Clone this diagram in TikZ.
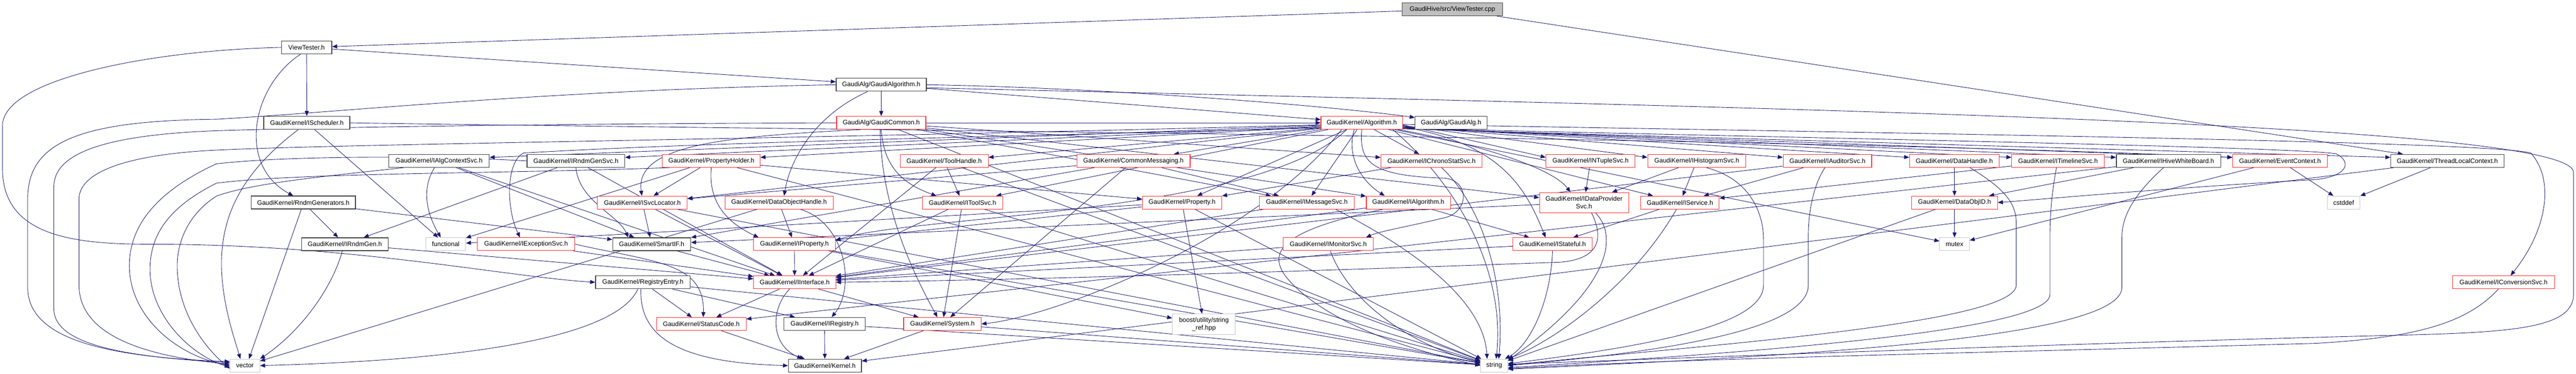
\documentclass[tikz,border=0pt]{standalone}
\usepackage{fontspec}
\newfontfamily\dfont{Liberation Sans}
\usetikzlibrary{arrows.meta}
\definecolor{edgec}{HTML}{191970}
\definecolor{redb}{HTML}{FF3030}
\definecolor{blkb}{HTML}{404040}
\definecolor{grayb}{HTML}{C8C8C8}
\definecolor{cppfill}{HTML}{BFBFBF}
\pgfdeclarelayer{bg}
\pgfsetlayers{bg,main}
\tikzset{
  nd/.style={draw, fill=white, inner sep=0pt, minimum height=25.6pt, font=\dfont\fontsize{12.8}{15}\selectfont, line width=1.1pt, text=black},
  rb/.style={nd, draw=redb},
  bb/.style={nd, draw=blkb, line width=1.4pt},
  gb/.style={nd, draw=grayb},
  cppb/.style={nd, draw=blkb, line width=1.4pt, fill=cppfill},
  e/.style={draw=edgec, line width=0.9pt, -{Triangle[length=10pt,width=8pt]}},
}
\begin{document}
\begin{tikzpicture}[x=1pt,y=-1.425pt]
\useasboundingbox (0,0) rectangle (5117,520);
% ---------- nodes ----------
\node[cppb, minimum width=200pt] (cpp) at (2885,13) {GaudiHive/src/ViewTester.cpp};
\node[bb, minimum width=100pt] (vth) at (609,66) {ViewTester.h};
\node[bb, minimum width=171pt] (isch) at (609.5,171) {GaudiKernel/IScheduler.h};
\node[bb, minimum width=207pt] (rgen) at (602.5,282) {GaudiKernel/RndmGenerators.h};
\node[bb, minimum width=172pt] (irg) at (685,340) {GaudiKernel/IRndmGen.h};
\node[gb, minimum width=59pt] (vec) at (486.5,509) {vector};
\node[bb, minimum width=200pt] (iacs) at (872,224) {GaudiKernel/IAlgContextSvc.h};
\node[bb, minimum width=194pt] (irgs) at (1144,224) {GaudiKernel/IRndmGenSvc.h};
\node[gb, minimum width=79pt] (func) at (885.5,340) {functional};
\node[rb, minimum width=194pt] (iexc) at (1045,340) {GaudiKernel/IExceptionSvc.h};
\node[bb, minimum width=155pt] (sif) at (1294.5,340) {GaudiKernel/SmartIF.h};
\node[rb, minimum width=178pt] (isvl) at (1276,282) {GaudiKernel/ISvcLocator.h};
\node[bb, minimum width=188pt] (regE) at (1277,393) {GaudiKernel/RegistryEntry.h};
\node[bb, minimum width=179pt] (galgo) at (1750.5,118) {GaudiAlg/GaudiAlgorithm.h};
\node[rb, minimum width=177pt] (gcom) at (1750.5,171) {GaudiAlg/GaudiCommon.h};
\node[rb, minimum width=194pt] (phold) at (1413,224) {GaudiKernel/PropertyHolder.h};
\node[rb, minimum width=215pt] (doh) at (1547.5,282) {GaudiKernel/DataObjectHandle.h};
\node[rb, minimum width=162pt] (iprop) at (1578,340) {GaudiKernel/IProperty.h};
\node[rb, minimum width=163pt] (iint) at (1578.5,393) {GaudiKernel/IInterface.h};
\node[rb, minimum width=178pt] (sc) at (1393,451) {GaudiKernel/StatusCode.h};
\node[bb, minimum width=162pt] (ireg) at (1638,451) {GaudiKernel/IRegistry.h};
\node[bb, minimum width=145pt] (kern) at (1638.5,509) {GaudiKernel/Kernel.h};
\node[rb, minimum width=175pt] (th) at (1875.5,224) {GaudiKernel/ToolHandle.h};
\node[rb, minimum width=160pt] (its) at (1912,282) {GaudiKernel/IToolSvc.h};
\node[rb, minimum width=154pt] (sys) at (1872,451) {GaudiKernel/System.h};
\node[rb, minimum width=225pt] (cm) at (2251.5,224) {GaudiKernel/CommonMessaging.h};
\node[rb, minimum width=158pt] (prop) at (2348,282) {GaudiKernel/Property.h};
\node[gb, minimum width=125pt, minimum height=41pt, align=center] (boost) at (2391.5,451.5) {boost/utility/string\\\_ref.hpp};
\node[rb, minimum width=188pt] (ims) at (2596,282) {GaudiKernel/IMessageSvc.h};
\node[rb, minimum width=162pt] (alg) at (2705,171) {GaudiKernel/Algorithm.h};
\node[bb, minimum width=143pt] (galg) at (2882.5,171) {GaudiAlg/GaudiAlg.h};
\node[rb, minimum width=201pt] (ichr) at (2843.5,224) {GaudiKernel/IChronoStatSvc.h};
\node[rb, minimum width=167pt] (ialg) at (2797.5,282) {GaudiKernel/IAlgorithm.h};
\node[rb, minimum width=179pt] (imon) at (2638.5,340) {GaudiKernel/IMonitorSvc.h};
\node[gb, minimum width=54pt] (str) at (2968,509) {string};
\node[rb, minimum width=177pt] (intu) at (3159.5,224) {GaudiKernel/INTupleSvc.h};
\node[rb, minimum width=195pt] (ihist) at (3370.5,224) {GaudiKernel/IHistogramSvc.h};
\node[rb, minimum width=177pt, minimum height=40pt, align=center] (idps) at (3146.5,282) {GaudiKernel/IDataProvider\\Svc.h};
\node[rb, minimum width=156pt] (isrv) at (3337,282) {GaudiKernel/IService.h};
\node[rb, minimum width=158pt] (istf) at (3084,340) {GaudiKernel/IStateful.h};
\node[rb, minimum width=176pt] (iaud) at (3630,224) {GaudiKernel/IAuditorSvc.h};
\node[rb, minimum width=178pt] (dh) at (3882,224) {GaudiKernel/DataHandle.h};
\node[rb, minimum width=184pt] (itl) at (4088,224) {GaudiKernel/ITimelineSvc.h};
\node[rb, minimum width=171pt] (doid) at (3882.5,282) {GaudiKernel/DataObjID.h};
\node[gb, minimum width=59pt] (mutex) at (3882.5,340) {mutex};
\node[bb, minimum width=207pt] (ihwb) at (4307.5,224) {GaudiKernel/IHiveWhiteBoard.h};
\node[rb, minimum width=188pt] (ec) at (4529,224) {GaudiKernel/EventContext.h};
\node[gb, minimum width=65pt] (cstd) at (4655.5,282) {cstddef};
\node[bb, minimum width=225pt] (tlc) at (4861.5,224) {GaudiKernel/ThreadLocalContext.h};
\node[rb, minimum width=202pt] (icnv) at (4973,393) {GaudiKernel/IConversionSvc.h};
% ---------- edges ----------
\begin{pgfonlayer}{bg}
\fill[white] (0,0) rectangle (5117,520);
% top level
\draw[e] (cpp) -- (vth);
\draw[e] (cpp) -- (tlc);
\draw[e] (vth) -- (galgo);
\draw[e] (vth) -- (isch);
\draw[e] ([xshift=-12pt]vth.south) .. controls (500,120) and (470,230) .. ([xshift=-20pt]rgen.north);
\draw[e] (vth.west) .. controls (300,70) and (5,110) .. (5,175) -- (5,235) .. controls (5,330) and (150,340) .. (300,340) .. controls (700,340) and (1000,385) .. (regE.west);
% GaudiAlgorithm.h
\draw[e] (galgo) -- (gcom);
\draw[e] (galgo.west) .. controls (1100,125) and (700,155) .. (430,166) .. controls (150,168) and (55,200) .. (55,277) -- (55,400) .. controls (55,470) and (200,497) .. ([yshift=8pt]vec.west);
\draw[e] (galgo) -- (alg);
\draw[e] (galgo.east) .. controls (2200,122) and (2650,148) .. ([yshift=-3pt]galg.north west);
\draw[e] ([xshift=-27pt]galgo.south) .. controls (1620,160) and (1570,220) .. ([xshift=10pt]doh.north);
\draw[e] ([yshift=-6pt]galgo.east) .. controls (3500,150) and (5112,170) .. (5112,240) -- (5112,410) .. controls (5112,455) and (5000,462) .. (4800,466) .. controls (4000,480) and (3300,500) .. ([yshift=3pt]str.east);
% GaudiCommon.h
\draw[e] (gcom) -- (alg);
\draw[e] (gcom.south) .. controls (1755,230) and (1790,255) .. ([xshift=-52pt]its.north);
\draw[e] ([xshift=-2pt]gcom.south) .. controls (1750,300) and (1830,400) .. ([xshift=-10pt]sys.north);
\draw[e] ([xshift=-40pt]gcom.south) .. controls (1450,190) and (1260,200) .. ([xshift=-1pt]isvl.north);
\draw[e] (gcom.west) .. controls (1200,172) and (700,176) .. (430,182) .. controls (200,188) and (107,215) .. (107,260) -- (107,430) .. controls (107,480) and (250,497) .. ([yshift=6pt]vec.west);
\draw[e] (gcom) -- (ims);
\draw[e] (gcom) -- (idps);
\draw[e] (gcom) -- (ichr);
\draw[e] (gcom) -- (ialg);
\draw[e] (gcom) -- (str);
% Algorithm.h
\draw[e] ([yshift=-5pt]alg.west) -- ([yshift=7pt]iacs.east);
\draw[e] ([yshift=-7pt]alg.west) -- ([yshift=7pt]irgs.east);
\draw[e] ([yshift=-8pt]alg.west) -- ([yshift=7pt]phold.east);
\draw[e] ([yshift=-10pt]alg.west) -- ([yshift=7pt]th.east);
\draw[e] (alg) -- (cm);
\draw[e] (alg) -- (its);
\draw[e] (alg) -- (prop);
\draw[e] (alg) -- (ims);
\draw[e] ([xshift=-15pt]alg.south) .. controls (2675,215) and (2700,250) .. ([xshift=-47pt]ialg.north);
\draw[e] (alg) -- (ichr);
\foreach \t/\s in {intu/-4, ihist/-5.5, iaud/-7, dh/-8, itl/-9, ihwb/-10, ec/-11, tlc/-12}
  \draw[e] ([yshift=\s pt]alg.east) -- ([yshift=7pt]\t.west);
\draw[e] ([yshift=-3pt]alg.east) .. controls (4000,188) and (4950,198) .. (5027,213) .. controls (5075,250) and (5060,320) .. ([xshift=14pt]icnv.north);
\draw[e] ([yshift=-8pt]alg.east) .. controls (2980,200) and (3030,260) .. ([xshift=-14pt]istf.north);
\draw[e] (alg) -- (isrv);
\draw[e] ([xshift=-10pt]alg.south east) .. controls (2900,195) and (3080,230) .. ([xshift=-27pt]idps.north);
\draw[e] ([yshift=-10pt]alg.west) .. controls (2000,190) and (1400,198) .. (1040,213) .. controls (1005,225) and (1005,290) .. ([xshift=-12pt]iexc.north);
\draw[e] (alg.south) .. controls (2700,225) and (2720,245) .. (2870,248) .. controls (2920,252) and (2918,295) .. (2870,303) .. controls (2800,315) and (2740,322) .. ([xshift=75pt]imon.north);
\draw[e] ([xshift=-30pt]alg.south) .. controls (2500,300) and (1800,300) .. ([yshift=7pt]iprop.east);
\draw[e] ([yshift=-11pt]alg.west) -- ([yshift=8pt]isvl.east);
\draw[e] ([xshift=-40pt]alg.south) .. controls (2500,330) and (2100,440) .. (sys.east);
\draw[e] ([xshift=-20pt]alg.south east) .. controls (2900,260) and (2990,380) .. ([xshift=4pt]str.north);
\draw[e] ([yshift=-4pt]alg.west) .. controls (1500,195) and (700,200) .. (430,209) .. controls (250,215) and (157,240) .. (157,277) -- (157,397) .. controls (157,470) and (300,497) .. ([yshift=3pt]vec.west);
\draw[e] ([yshift=-11pt]alg.east) .. controls (3800,195) and (4550,205) .. (4640,214) .. controls (4672,225) and (4665,245) .. (4600,250) .. controls (4300,262) and (4100,275) .. (doid.east);
\draw[e] (alg) -- (mutex);
% IScheduler.h
\draw[e] ([xshift=-17pt]isch.south) .. controls (480,240) and (440,300) .. (440,367) .. controls (440,420) and (465,470) .. ([xshift=-9pt]vec.north);
\draw[e] (isch) -- (func);
\draw[e] (isch.east) .. controls (1500,180) and (3500,190) .. ([yshift=7pt]ec.west);
% RndmGenerators.h, IRndmGen.h
\draw[e] (rgen) -- (irg);
\draw[e] ([xshift=-4pt]rgen.south) -- ([xshift=8pt]vec.north);
\draw[e] (rgen) -- (sif);
\draw[e] ([xshift=-5pt]irg.south) .. controls (660,400) and (600,460) .. (vec.north east);
\draw[e] (irg) -- (iint);
% IAlgContextSvc.h
\draw[e] (iacs) -- (sif);
\draw[e] (iacs) -- (iint);
\draw[e] ([xshift=-9pt]iacs.south) .. controls (835,265) and (850,300) .. ([xshift=-10pt]func.north);
\draw[e] ([xshift=30pt]iacs.south west) .. controls (650,245) and (500,255) .. (430,273) .. controls (370,300) and (352,340) .. (352,370) .. controls (352,430) and (400,480) .. ([yshift=-6pt]vec.west);
% IRndmGenSvc.h
\draw[e] (irgs) -- (irg);
\draw[e] (irgs.south) .. controls (1150,280) and (1230,300) .. ([xshift=-47pt]sif.north);
\draw[e] (irgs) -- (iint);
\draw[e] (irgs.west) .. controls (900,218) and (600,215) .. (430,228) .. controls (300,270) and (257,320) .. (257,370) .. controls (257,440) and (350,495) .. (vec.west);
% IExceptionSvc.h, SmartIF.h, ISvcLocator.h
\draw[e] (iexc) -- (iint);
\draw[e] (iexc.east) .. controls (1300,365) and (1400,365) .. ([xshift=4pt]sc.north);
\draw[e] (sif) -- (iint);
\draw[e] (isvl) -- (sif);
\draw[e] (isvl) -- (iint);
\draw[e] (isvl) -- (str);
% RegistryEntry.h
\draw[e] (regE) -- (ireg);
\draw[e] ([xshift=-4pt]regE.south) .. controls (1270,470) and (1350,505) .. (kern.west);
\draw[e] (regE) -- (sc);
\draw[e] ([xshift=-10pt]regE.south) .. controls (1230,460) and (1000,500) .. (vec.east);
\draw[e] (regE) -- (str);
% PropertyHolder.h
\draw[e] (phold) -- (isvl);
\draw[e] (phold.south) .. controls (1405,290) and (1460,315) .. ([xshift=-71pt]iprop.north);
\draw[e] (phold) -- (prop);
\draw[e] (phold) -- (func);
\draw[e] (phold) -- (str);
\draw[e] ([xshift=15pt]phold.south west) .. controls (1000,242) and (600,240) .. (430,255) .. controls (330,290) and (298,330) .. (298,375) .. controls (298,440) and (380,495) .. ([yshift=-3pt]vec.west);
% DataObjectHandle.h
\draw[e] (doh) -- (iprop);
\draw[e] ([xshift=42pt]doh.south) .. controls (1680,310) and (1700,400) .. ([xshift=14pt]ireg.north);
\draw[e] (doh) -- (vec);
% IProperty.h, IInterface.h
\draw[e] (iprop) -- (iint);
\draw[e] (iprop) -- (boost);
\draw[e] (iprop) -- (str);
\draw[e] (iint) -- (sc);
\draw[e] ([xshift=-10pt]iint.south) .. controls (1530,430) and (1530,480) .. ([xshift=-45pt]kern.north);
\draw[e] (iint) -- (sys);
% StatusCode.h, IRegistry.h, System.h
\draw[e] (sc) -- (kern);
\draw[e] (ireg) -- (kern);
\draw[e] (ireg) -- (str);
\draw[e] (sys) -- (kern);
\draw[e] (sys) -- (str);
% ToolHandle.h, IToolSvc.h
\draw[e] (th) -- (its);
\draw[e] (th) -- (iint);
\draw[e] (th) -- (str);
\draw[e] (its) -- (sys);
\draw[e] (its) -- (iint);
\draw[e] (its) -- (str);
% CommonMessaging.h
\draw[e] (cm) -- (ims);
\draw[e] (cm) -- (sys);
\draw[e] (cm) -- (isvl);
\draw[e] (cm) -- (sif);
% Property.h
\draw[e] (prop) -- (boost);
\draw[e] (prop) -- (iprop);
\draw[e] (prop) -- (func);
\draw[e] (prop) -- (str);
% IMessageSvc.h, IAlgorithm.h, IMonitorSvc.h, IChronoStatSvc.h
\draw[e] ([xshift=57pt]ims.south) .. controls (2900,380) and (2950,450) .. ([xshift=-14pt]str.north);
\draw[e] (ims) -- (iint);
\draw[e] (ialg) -- (istf);
\draw[e] ([xshift=-50pt]ialg.south) .. controls (2550,320) and (2510,350) .. (2560,390) .. controls (2650,460) and (2850,495) .. (str.west);
\draw[e] (ialg) -- (iint);
\draw[e] ([xshift=4pt]imon.south) .. controls (2680,420) and (2800,480) .. ([yshift=6pt]str.west);
\draw[e] (imon) -- (iint);
\draw[e] ([xshift=20pt]ichr.south) .. controls (2950,290) and (2990,400) .. ([xshift=9pt]str.north);
\draw[e] (ichr) -- (prop);
% INTupleSvc.h, IHistogramSvc.h, IAuditorSvc.h
\draw[e] (intu) -- (idps);
\draw[e] (ihist) -- (idps);
\draw[e] (ihist) -- (isrv);
\draw[e] ([xshift=19pt]ihist.south) .. controls (3480,250) and (3503,300) .. (3503,333) -- (3503,397) .. controls (3503,450) and (3300,480) .. ([yshift=4pt]str.east);
\draw[e] (iaud) -- (isrv);
\draw[e] ([xshift=-5pt]iaud.south) .. controls (3600,260) and (3592,300) .. (3592,327) -- (3592,397) .. controls (3592,460) and (3300,490) .. (str.east);
\draw[e] (iaud) -- (iint);
% IService.h, IStateful.h, IDataProviderSvc.h
\draw[e] (isrv) -- (istf);
\draw[e] ([xshift=-7pt]isrv.south) .. controls (3250,390) and (3100,470) .. (str.north east);
\draw[e] (istf.south) .. controls (3080,420) and (3040,480) .. ([xshift=-6pt]str.north east);
\draw[e] (istf) -- (iint);
\draw[e] ([xshift=23pt]idps.south) .. controls (3215,330) and (3200,400) .. ([yshift=-3pt]str.north east);
\draw[e] ([xshift=15pt]idps.south) .. controls (3185,330) and (3180,360) .. (3100,365) .. controls (2500,380) and (2000,390) .. (iint.east);
\draw[e] (idps) -- (sif);
% DataHandle.h, ITimelineSvc.h, IHiveWhiteBoard.h
\draw[e] (dh) -- (doid);
\draw[e] ([xshift=31pt]dh.south) .. controls (3975,260) and (4005,280) .. (4005,310) -- (4005,397) .. controls (4005,450) and (3400,480) .. ([yshift=1pt]str.east);
\draw[e] ([xshift=-3pt]itl.south) .. controls (4075,270) and (4072,300) .. (4072,333) -- (4072,410) .. controls (4072,460) and (3500,490) .. ([yshift=-4pt]str.east);
\draw[e] (itl) -- (isrv);
\draw[e] (ihwb) -- (doid);
\draw[e] ([xshift=-10pt]ihwb.south) .. controls (4240,270) and (4215,300) .. (4215,330) -- (4215,400) .. controls (4215,470) and (3600,495) .. ([yshift=-7pt]str.east);
\draw[e] (ihwb) -- (sc);
% EventContext.h, ThreadLocalContext.h, IConversionSvc.h, DataObjID.h
\draw[e] (ec) -- (cstd);
\draw[e] (ec) -- (mutex);
\draw[e] (tlc) -- (cstd);
\draw[e] (tlc) -- (kern);
\draw[e] ([xshift=-10pt]icnv.south) .. controls (4900,450) and (4800,470) .. (4600,478) .. controls (4000,490) and (3300,500) .. ([yshift=-6pt]str.east);
\draw[e] (doid) -- (mutex);
\draw[e] (doid) -- (str);
\end{pgfonlayer}
\end{tikzpicture}
\end{document}
